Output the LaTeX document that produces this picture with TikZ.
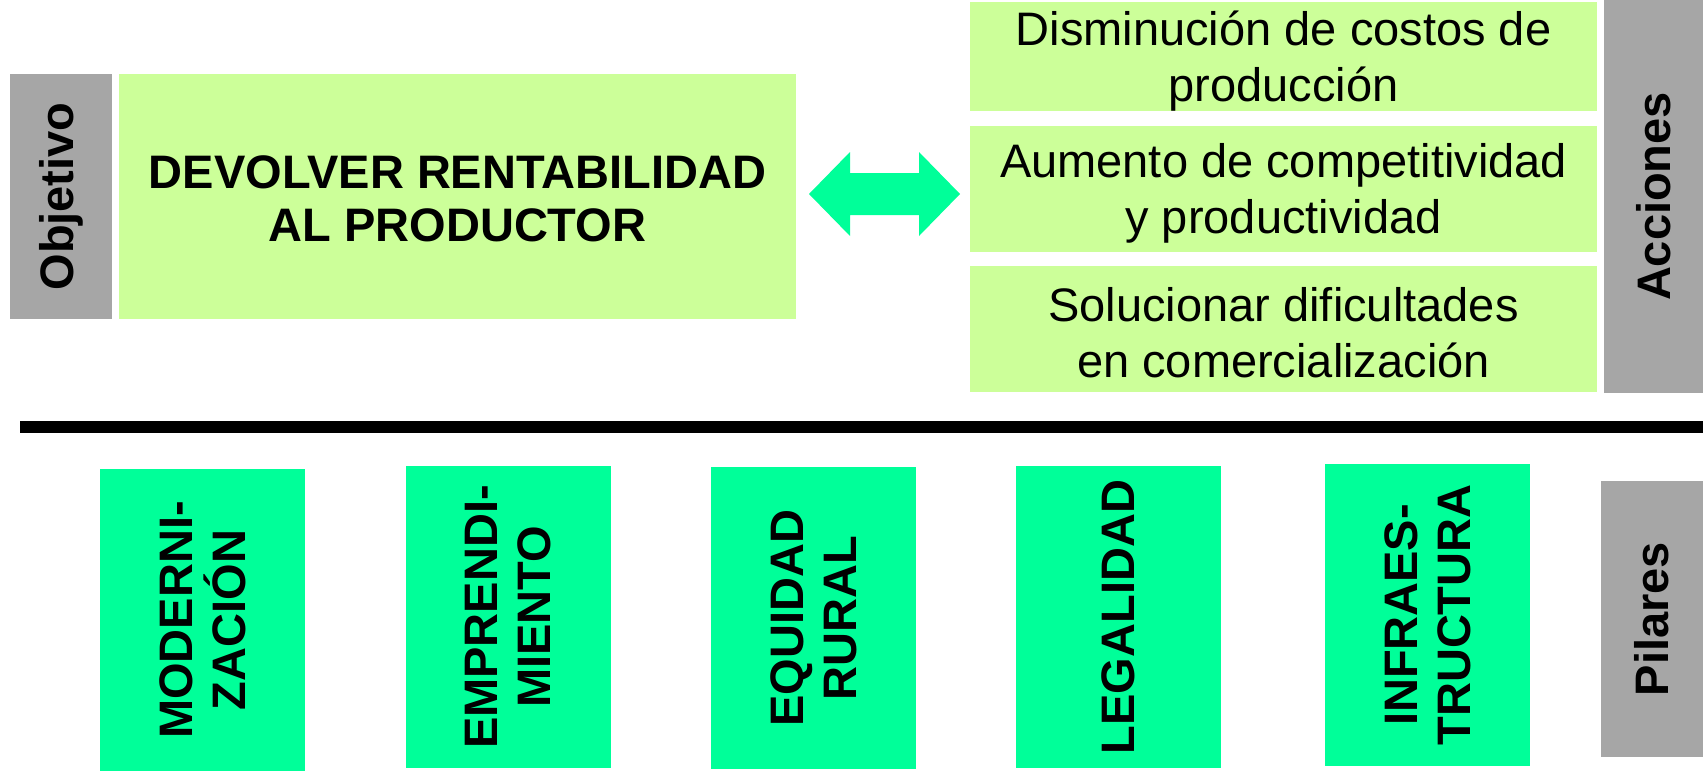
\documentclass[tikz,border=0pt]{standalone}
\usepackage{fontspec}
\setmainfont{Liberation Sans}
\definecolor{lgreen}{HTML}{CCFF99}
\definecolor{pgreen}{HTML}{00FF99}
\definecolor{greybox}{HTML}{A6A6A6}
\begin{document}
\begin{tikzpicture}[x=1pt,y=-1pt,
  every node/.style={inner sep=0pt, outer sep=0pt, align=center, font=\fontsize{47}{56}\selectfont},
  actbox/.style={fill=lgreen, minimum width=627pt},
  sidelbl/.style={fill=greybox, rotate=90, font=\fontsize{47}{56}\selectfont\bfseries},
  pilbox/.style={fill=pgreen, rotate=90, minimum width=302pt, minimum height=205pt, font=\fontsize{47}{53}\selectfont\bfseries}
]
\useasboundingbox (0,0) rectangle (1703,771);
% top part
\node[sidelbl, minimum width=245pt, minimum height=102pt] (obj) at (61,196.5) {Objetivo};
\node[fill=lgreen, minimum width=677pt, minimum height=245pt] (main) at (457.5,196.5) {};
\node[font=\fontsize{47}{53}\selectfont\bfseries] (maint) at ([yshift=-2pt]main.center) {DEVOLVER RENTABILIDAD\\AL PRODUCTOR};
\node[actbox, minimum height=109pt] (r1) at (1283.5,56.5) {};
\node[actbox, minimum height=126pt] (r2) at (1283.5,189) {};
\node[actbox, minimum height=126pt] (r3) at (1283.5,329) {};
\node (r1t) at ([yshift=-5pt]r1.center) {Disminución de costos de\\producción};
\node (r2t) at ([yshift=-4.5pt]r2.center) {Aumento de competitividad\\y productividad};
\node (r3t) at ([yshift=-3.5pt]r3.center) {Solucionar dificultades\\en comercialización};
\node[sidelbl, minimum width=393pt, minimum height=99pt] (acc) at (1653.5,196.5) {Acciones};
% double arrow
\coordinate (al) at (809,194);
\coordinate (ar) at (960,194);
\fill[pgreen] (al) -- (850,152) -- (850,173) -- (919,173) -- (919,152) -- (ar)
  -- (919,236) -- (919,215) -- (850,215) -- (850,236) -- cycle;
% separator
\coordinate (ls) at (20,427);
\coordinate (le) at (1703,427);
\draw[line width=12pt, black] (ls) -- (le);
% pillars
\node[pilbox] (p1) at (202.5,620) {MODERNI-\\ZACIÓN};
\node[pilbox] (p2) at (508.5,617) {EMPRENDI-\\MIENTO};
\node[pilbox] (p3) at (813.5,618) {EQUIDAD\\RURAL};
\node[pilbox] (p4) at (1118.5,617) {LEGALIDAD};
\node[pilbox] (p5) at (1427.5,615) {INFRAES-\\TRUCTURA};
\node[sidelbl, minimum width=276pt, minimum height=102pt] (pil) at (1652,619) {Pilares};
\end{tikzpicture}
\end{document}
